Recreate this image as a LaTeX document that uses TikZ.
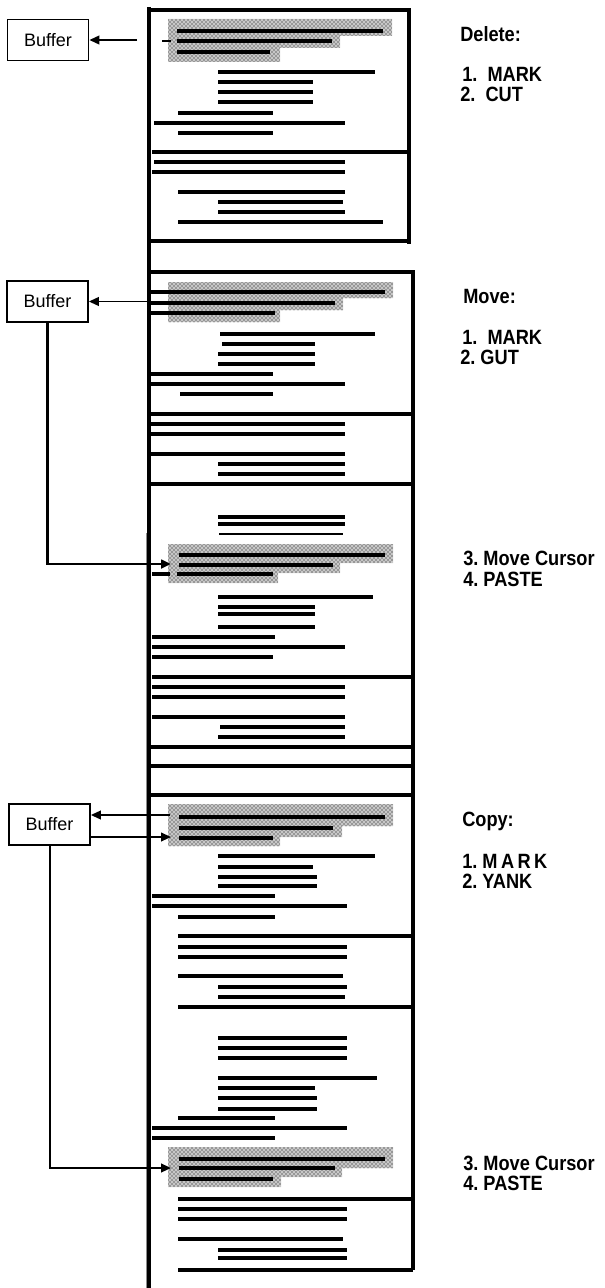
\documentclass[tikz,border=0pt]{standalone}
\usepackage{fontspec}
\setmainfont{Liberation Sans}
\newfontfamily\steptextfont[FakeStretch=0.88]{Liberation Sans}
\usetikzlibrary{arrows.meta,patterns}

\begin{document}
\begin{tikzpicture}[x=0.75pt,y=0.75pt,yscale=-1,xscale=1,
  txt/.style={line width=2.4pt},
  rule/.style={line width=2.6pt},
  hilite/.style={preaction={fill=black!22},pattern=crosshatch dots,pattern color=black,draw=none},
  bufbox/.style={draw,line width=1.3pt,minimum width=60.75pt,minimum height=30.75pt,inner sep=0pt,font=\fontsize{13.5}{15}\selectfont},
  steplbl/.style={anchor=base west,inner sep=0pt,font=\steptextfont\bfseries\fontsize{15.5}{17}\selectfont},
  feed/.style={line width=1.4pt,-{Triangle[length=7.5pt,width=6.5pt]}}
]
\useasboundingbox (0,0) rectangle (605,1288);

%Shape: Highlight
\fill[hilite] (168,19) -- (392,19) -- (392,36) -- (340,36) -- (340,48) -- (280,48) -- (280,62) -- (168,62) -- cycle ;
\fill[hilite] (168,282) -- (393,282) -- (393,298) -- (343,298) -- (343,310) -- (280,310) -- (280,322) -- (168,322) -- cycle ;
\fill[hilite] (168,544) -- (393,544) -- (393,563) -- (340,563) -- (340,573) -- (278,573) -- (278,583) -- (168,583) -- cycle ;
\fill[hilite] (168,804) -- (393,804) -- (393,826) -- (342,826) -- (342,837) -- (280,837) -- (280,846) -- (168,846) -- cycle ;
\fill[hilite] (168,1147) -- (393,1147) -- (393,1168) -- (342,1168) -- (342,1177) -- (281,1177) -- (281,1187) -- (168,1187) -- cycle ;

%Straight Lines: page edges
\draw [line width=3pt] (149,7) -- (149,1288) ;
\draw [line width=0.6pt,color=black!45] (146.5,533) -- (146.5,1288) ;
\draw [rule] (149,10) -- (409,10) -- (409,244) ;
\draw [rule] (149,241) -- (410,241) ;
\draw [rule] (149,272) -- (413,272) -- (413,1270) ;
\draw [rule] (149,766) -- (415,766) ;
\draw [rule] (149,795) -- (413,795) ;

%Straight Lines: Delete
\draw [txt] (177,31) -- (383,31) (177,41) -- (332,41) (177,52) -- (270,52) ;
\draw [line width=1pt] (162,41) -- (171,41) ;
\draw [txt] (218,72) -- (375,72) (218,82) -- (313,82) (218,92) -- (313,92) (218,102) -- (313,102) ;
\draw [txt] (178,113) -- (273,113) (154,123) -- (345,123) (178,133) -- (273,133) ;
\draw [rule] (152,152) -- (409,152) ;
\draw [txt] (154,162) -- (345,162) (152,172) -- (345,172) (178,192) -- (345,192) ;
\draw [txt] (218,202) -- (343,202) (218,212) -- (345,212) (178,222) -- (383,222) ;

%Straight Lines: Move
\draw [txt] (150,292) -- (385,292) (150,303) -- (335,303) (150,313) -- (275,313) ;
\draw [txt] (220,334) -- (375,334) (222,344) -- (315,344) (218,354) -- (315,354) (218,364) -- (315,364) ;
\draw [txt] (150,374) -- (273,374) (150,384) -- (345,384) (180,394) -- (273,394) ;
\draw [rule] (150,414) -- (413,414) ;
\draw [txt] (150,424) -- (345,424) (150,434) -- (345,434) (150,454) -- (345,454) ;
\draw [txt] (218,464) -- (345,464) (218,474) -- (345,474) ;
\draw [rule] (150,484) -- (413,484) ;
\draw [txt] (218,517) -- (345,517) (218,524) -- (345,524) ;
\draw [line width=1.4pt] (219,534) -- (343,534) ;
\draw [txt] (179,555) -- (385,555) (179,565) -- (333,565) (177,574) -- (273,574) (152,574) -- (170,574) ;
\draw [txt] (218,597) -- (373,597) (218,607) -- (315,607) (218,614) -- (315,614) (218,627) -- (315,627) ;
\draw [txt] (152,637) -- (275,637) (152,647) -- (345,647) (152,657) -- (273,657) ;
\draw [rule] (152,677) -- (413,677) ;
\draw [txt] (152,687) -- (345,687) (152,697) -- (345,697) (152,717) -- (345,717) ;
\draw [txt] (220,727) -- (345,727) (218,737) -- (345,737) ;
\draw [rule] (150,747) -- (413,747) ;

%Straight Lines: Copy
\draw [txt] (179,817) -- (385,817) (179,828) -- (333,828) (179,838) -- (273,838) ;
\draw [txt] (218,856) -- (375,856) (218,867) -- (313,867) (218,877) -- (317,877) (218,886) -- (317,886) ;
\draw [txt] (152,896) -- (275,896) (152,906) -- (347,906) (178,917) -- (275,917) ;
\draw [rule] (178,936) -- (413,936) ;
\draw [txt] (178,947) -- (347,947) (178,957) -- (347,957) (178,976) -- (343,976) ;
\draw [txt] (218,987) -- (347,987) (218,997) -- (345,997) ;
\draw [rule] (178,1007) -- (413,1007) ;
\draw [txt] (218,1038) -- (347,1038) (218,1048) -- (347,1048) (218,1058) -- (347,1058) ;
\draw [txt] (218,1078) -- (377,1078) (218,1088) -- (315,1088) (218,1098) -- (317,1098) (218,1109) -- (317,1109) ;
\draw [txt] (178,1118) -- (275,1118) (152,1128) -- (347,1128) (152,1138) -- (275,1138) ;
\draw [txt] (179,1159) -- (385,1159) (179,1168) -- (335,1168) (179,1179) -- (273,1179) ;
\draw [rule] (178,1199) -- (413,1199) ;
\draw [txt] (178,1209) -- (347,1209) (178,1219) -- (347,1219) (178,1239) -- (343,1239) ;
\draw [txt] (218,1250) -- (347,1250) (218,1258) -- (347,1258) ;
\draw [rule] (178,1270) -- (413,1270) ;

%Shape: Buffers
\node [bufbox] (bufdel) at (48,40) {Buffer};
\node [bufbox] (bufmove) at (47.5,301.5) {Buffer};
\node [bufbox] (bufcopy) at (49.5,824.5) {Buffer};

\coordinate (cutdel) at (137,40);
\coordinate (cutmove) at (147,301.5);
\coordinate (pastemove) at (171,564);
\coordinate (yankcopy) at (170,815);
\coordinate (fromcopy) at (171,837);
\coordinate (pastecopy) at (171,1168);

%Straight Lines: arrows
\draw [feed] (cutdel) -- (bufdel) ;
\draw [feed] (cutmove) -- (bufmove) ;
\draw [feed,line width=2.1pt] (bufmove.south) |- (pastemove) ;
\draw [feed] (yankcopy) -- (yankcopy -| bufcopy.east) ;
\draw [feed] (fromcopy -| bufcopy.east) -- (fromcopy) ;
\draw [feed,line width=1.5pt] (bufcopy.south) |- (pastecopy) ;

% Text Node
\node [steplbl] (deltitle) at (460,42) {Delete:};
\node [steplbl] (delmark) at (462,82) {1.\ \ MARK};
\node [steplbl] (delcut) at (460,102) {2.\ \ CUT};
\node [steplbl] (movetitle) at (463,303) {Move:};
\node [steplbl] (movemark) at (462,344) {1.\ \ MARK};
\node [steplbl] (movecut) at (460,364) {2.\ GUT};
\node [steplbl] (movecursor) at (463,565) {3.\ Move Cursor};
\node [steplbl] (movepaste) at (463,586) {4.\ PASTE};
\node [steplbl] (copytitle) at (462,826) {Copy:};
\node [steplbl] (copymark) at (462,868) {1.\ M\,A\,R\,K};
\node [steplbl] (copyyank) at (462,888) {2.\ YANK};
\node [steplbl] (copycursor) at (463,1170) {3.\ Move Cursor};
\node [steplbl] (copypaste) at (463,1190) {4.\ PASTE};

\end{tikzpicture}
\end{document}
